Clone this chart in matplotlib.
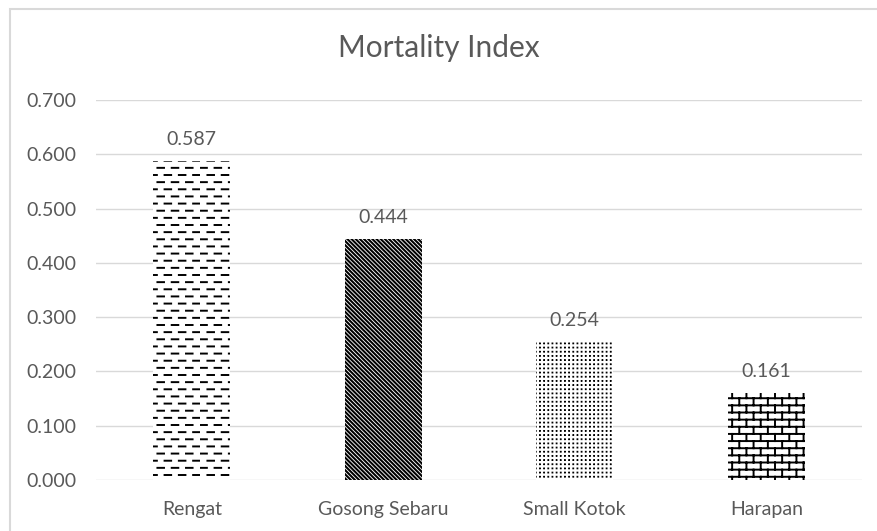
import numpy as np
import matplotlib
matplotlib.use("Agg")
import matplotlib.pyplot as plt
import matplotlib.hatch as mhatch
from matplotlib.path import Path
from matplotlib.patches import Rectangle

# Data
sites = ["Rengat", "Gosong Sebaru", "Small Kotok", "Harapan"]
mortality = [0.587, 0.444, 0.254, 0.161]
y_ticks = [0.0, 0.1, 0.2, 0.3, 0.4, 0.5, 0.6, 0.7]
patterns = ["-", "\\" * 8, ".", "+"]
hatch_widths = [1.4, 1.5, 0.8, 1.4]

text_grey = "#595959"
grid_grey = "#d9d9d9"


# Custom hatch fills (office-style pattern fills)
class DashRows(mhatch.HatchPatternBase):
    rows, cols = 14, 7

    def __init__(self, hatch, density):
        self.num_vertices = self.rows * self.cols * 2 if "-" in hatch else 0

    def set_vertices_and_codes(self, vertices, codes):
        v = []
        for i in range(self.rows):
            y = (i + 0.5) / self.rows
            shift = 0.5 * (i % 2)
            for j in range(self.cols):
                v += [((j + 0.02 + shift) / self.cols, y),
                      ((j + 0.48 + shift) / self.cols, y)]
        vertices[:] = v
        codes[0::2] = Path.MOVETO
        codes[1::2] = Path.LINETO


class DotGrid(mhatch.HatchPatternBase):
    n = 24
    s = 0.007

    def __init__(self, hatch, density):
        self.num_vertices = self.n * self.n * 5 if "." in hatch else 0

    def set_vertices_and_codes(self, vertices, codes):
        v = []
        for i in range(self.n):
            for j in range(self.n):
                x = (j + 0.5) / self.n
                y = (i + 0.5) / self.n
                v += [(x, y), (x + self.s, y), (x + self.s, y + self.s),
                      (x, y + self.s), (x, y)]
        vertices[:] = v
        codes[:] = Path.LINETO
        codes[0::5] = Path.MOVETO
        codes[4::5] = Path.CLOSEPOLY


class Bricks(mhatch.HatchPatternBase):
    rows, cols = 14, 7

    def __init__(self, hatch, density):
        self.on = "+" in hatch
        # horizontal lines + vertical joints (last row split across the tile edge)
        n = self.rows * 2 + (self.rows + 1) * self.cols * 2
        self.num_vertices = n if self.on else 0

    def set_vertices_and_codes(self, vertices, codes):
        ys = [(i + 0.25) / self.rows for i in range(self.rows)]
        v = []
        for y in ys:
            v += [(0.0, y), (1.0, y)]
        for i in range(self.rows):
            shift = 0.25 if i % 2 == 0 else 0.75
            for j in range(self.cols):
                x = (j + shift) / self.cols
                if i < self.rows - 1:
                    v += [(x, ys[i]), (x, ys[i + 1])]
                else:
                    v += [(x, ys[i]), (x, 1.0), (x, 0.0), (x, ys[0])]
        vertices[:] = v
        codes[0::2] = Path.MOVETO
        codes[1::2] = Path.LINETO


mhatch._hatch_types = [DashRows, mhatch.SouthEastHatch, DotGrid, Bricks]

plt.rcParams["font.family"] = ["Lato", "DejaVu Sans"]
plt.rcParams["hatch.linewidth"] = 1.4

fig = plt.figure(figsize=(8.77, 5.31), dpi=100)
ax = fig.add_axes([96 / 877, 1 - 480 / 531, (862 - 96) / 877, 380 / 531])

x = np.arange(len(sites))
for i, (xi, val) in enumerate(zip(x, mortality)):
    bar = ax.bar(xi, val, width=0.4, color="white", edgecolor="black",
                 linewidth=0, hatch=patterns[i], zorder=2)[0]
    if hasattr(bar, "set_hatch_linewidth"):
        bar.set_hatch_linewidth(hatch_widths[i])
    ax.annotate(f"{val:.3f}", (xi, val), xytext=(0, 11.5),
                textcoords="offset points", ha="center", va="baseline",
                fontsize=14, color=text_grey)

ax.set_xlim(-0.5, len(sites) - 0.5)
ax.set_ylim(0, 0.7)
ax.set_yticks(y_ticks)
ax.set_yticklabels([f"{t:.3f}" for t in y_ticks])
ax.set_xticks(x)
ax.set_xticklabels(sites)
ax.tick_params(axis="y", length=0, pad=14, labelsize=14, labelcolor=text_grey)
ax.tick_params(axis="x", length=0, pad=15, labelsize=14, labelcolor=text_grey)
ax.grid(axis="y", color=grid_grey, linewidth=1.0, zorder=0)
ax.set_axisbelow(True)
for s in ax.spines.values():
    s.set_visible(False)

fig.text(0.5, 1 - 48 / 531, "Mortality Index", ha="center", va="center",
         fontsize=21.5, color=text_grey)

# chart frame (top and left edges visible)
fig.patches.append(Rectangle((10 / 877, -0.1), 1.2, 1.1 - 9 / 531,
                             transform=fig.transFigure, fill=False,
                             edgecolor=grid_grey, linewidth=1.5))

fig.savefig("out.png", dpi=100)
